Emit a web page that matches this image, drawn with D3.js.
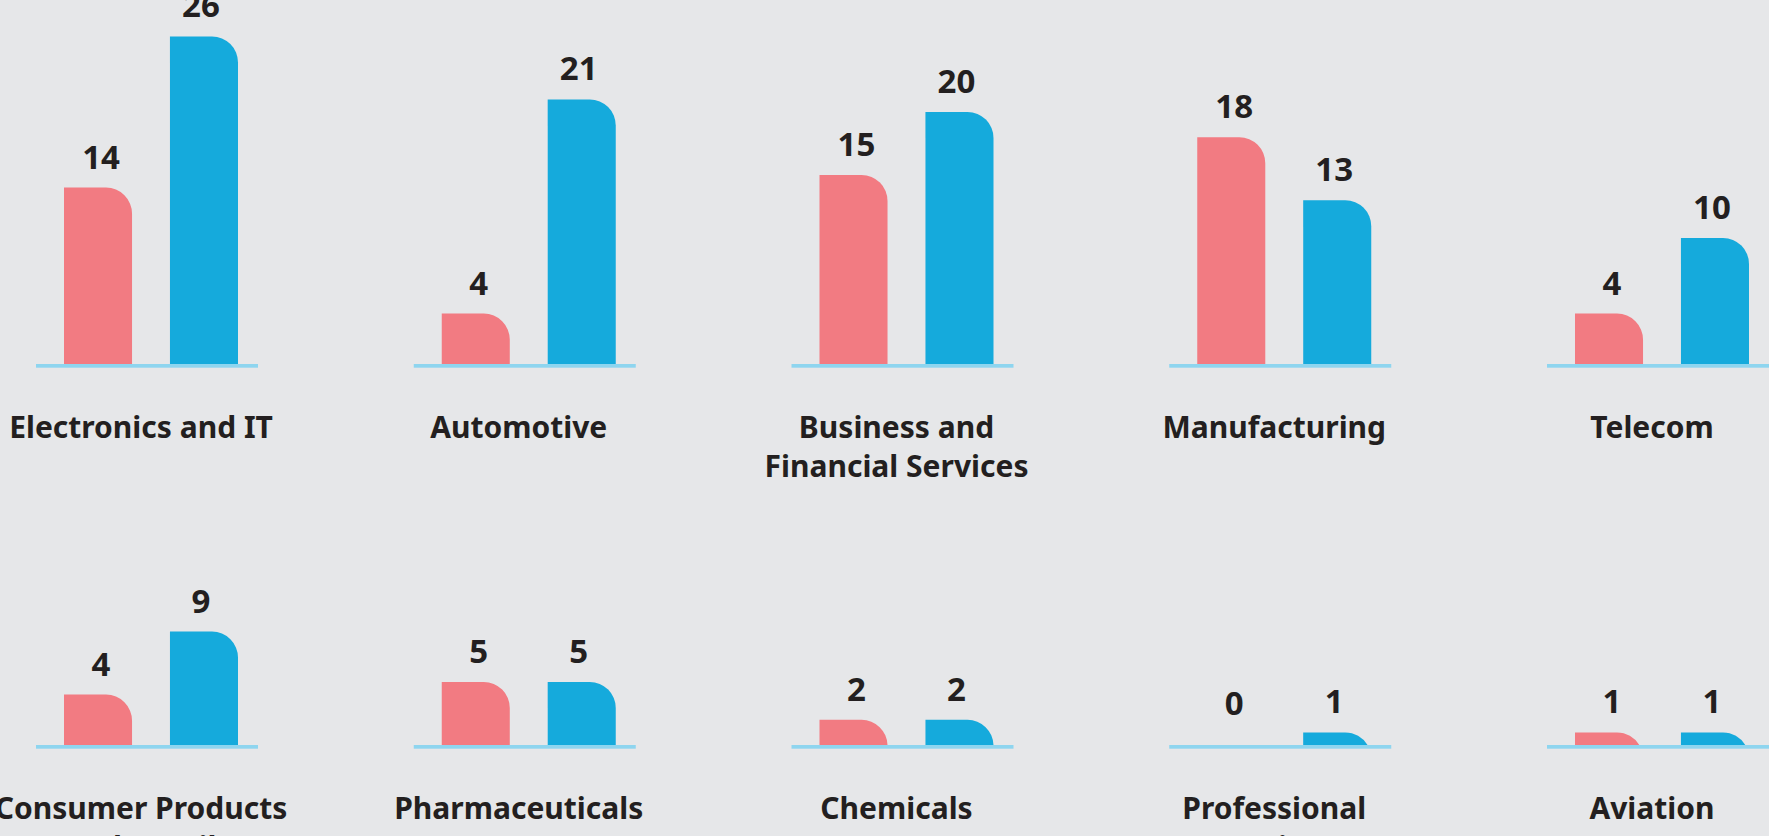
<!DOCTYPE html>
<html>
<head>
<meta charset="utf-8">
<script src="https://cdn.jsdelivr.net/npm/d3@7"></script>
<style>
  body { margin: 0; background: #e6e7e9; }
  text { font-family: "Noto Sans", sans-serif; font-weight: 700; fill: #231f20; }
</style>
</head>
<body>
<script>
// category names, split into display lines
const categories = [
  ["Electronics and IT"],
  ["Automotive"],
  ["Business and", "Financial Services"],
  ["Manufacturing"],
  ["Telecom"],
  ["Consumer Products", "and Retail"],
  ["Pharmaceuticals"],
  ["Chemicals"],
  ["Professional", "Services"],
  ["Aviation"]
];
const seriesPink = [14, 4, 15, 18, 4, 4, 5, 2, 0, 1];
const seriesBlue = [26, 21, 20, 13, 10, 9, 5, 2, 1, 1];

const W = 1769, H = 836;
const cols = 5;
const rowBase = 364, rowStep = 381;
const radius = 26;

const svg = d3.select("body")
  .append("svg")
  .attr("width", W)
  .attr("height", H);

svg.append("rect").attr("width", W).attr("height", H).attr("fill", "#e6e7e9");

// column positions
const colX = d3.scaleBand()
  .domain(d3.range(cols))
  .range([36, 1769])
  .paddingInner(0.4123)
  .paddingOuter(0);

// bars inside a group
const inner = d3.scaleBand()
  .domain(["pink", "blue"])
  .range([28, 202])
  .paddingInner(0.358)
  .paddingOuter(0);

const h = d3.scaleLinear().domain([0, 26]).range([0, 327.6]);

const colors = { pink: "#f27b82", blue: "#15aadc" };

function barPath(x, base, w, hh) {
  if (hh <= 0) return "";
  const top = base - hh;
  if (hh >= radius) {
    return `M${x},${base}L${x},${top}L${x + w - radius},${top}` +
      `A${radius},${radius} 0 0 1 ${x + w},${top + radius}L${x + w},${base}Z`;
  }
  const dx = Math.sqrt(radius * radius - (radius - hh) * (radius - hh));
  return `M${x},${base}L${x},${top}L${x + w - radius},${top}` +
    `A${radius},${radius} 0 0 1 ${x + w - radius + dx},${base}Z`;
}

const groups = categories.map((c, i) => ({
  lines: c,
  col: i % cols,
  row: Math.floor(i / cols),
  vals: [{ k: "pink", v: seriesPink[i] }, { k: "blue", v: seriesBlue[i] }]
}));

const g = svg.selectAll("g.grp")
  .data(groups)
  .enter()
  .append("g")
  .attr("class", "grp")
  .attr("transform", d => `translate(${colX(d.col)},${rowBase + d.row * rowStep})`);

// bars
g.selectAll("path.bar")
  .data(d => d.vals)
  .enter()
  .append("path")
  .attr("class", "bar")
  .attr("fill", d => colors[d.k])
  .attr("d", d => barPath(inner(d.k), 0, inner.bandwidth(), h(d.v)));

// baseline
g.append("rect")
  .attr("x", 0)
  .attr("y", 0)
  .attr("width", colX.bandwidth())
  .attr("height", 3.7)
  .attr("fill", "#8ed5ef");

// value labels
g.selectAll("text.val")
  .data(d => d.vals)
  .enter()
  .append("text")
  .attr("class", "val")
  .attr("text-anchor", "middle")
  .attr("x", d => inner(d.k) + inner.bandwidth() / 2 + (d.k === "pink" ? 3 : -3))
  .attr("y", d => Math.min(-h(d.v) - 19, -30))
  .style("font-size", "33px")
  .text(d => d.v);

// category labels
g.selectAll("text.cat")
  .data(d => d.lines)
  .enter()
  .append("text")
  .attr("class", "cat")
  .attr("text-anchor", "middle")
  .attr("x", 105)
  .attr("y", (d, i) => 73.5 + i * 39)
  .style("font-size", "30px")
  .text(d => d);
</script>
</body>
</html>
